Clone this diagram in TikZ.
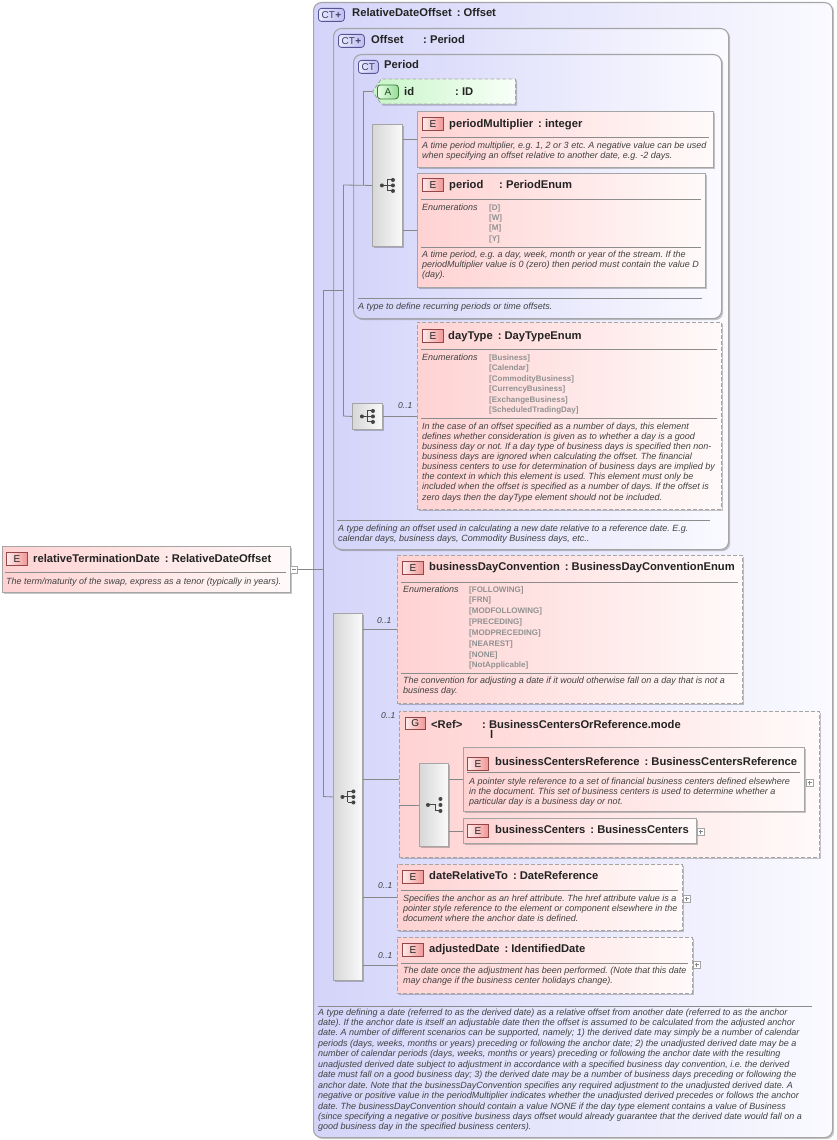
\documentclass[tikz,border=0pt]{standalone}
\usepackage{fontspec}
\setmainfont{Liberation Sans}
\usetikzlibrary{shapes.symbols,shadows}
\frenchspacing
\definecolor{ctL}{RGB}{212,212,250}
\definecolor{ctR}{RGB}{250,250,255}
\definecolor{elL}{RGB}{255,210,210}
\definecolor{elR}{RGB}{255,250,250}
\definecolor{atL}{RGB}{200,245,200}
\definecolor{atR}{RGB}{248,255,248}
\definecolor{sqL}{RGB}{215,215,215}
\definecolor{sqR}{RGB}{250,250,250}
\definecolor{bdr}{RGB}{165,165,165}
\definecolor{cnx}{RGB}{135,135,135}
\definecolor{ttlc}{RGB}{35,35,35}
\definecolor{dscc}{RGB}{65,65,65}
\definecolor{enmc}{RGB}{145,145,145}
\definecolor{sepc}{RGB}{140,140,140}
\definecolor{icE}{RGB}{150,70,70}
\definecolor{icEL}{RGB}{255,235,235}
\definecolor{icER}{RGB}{240,150,150}
\definecolor{icC}{RGB}{85,85,150}
\definecolor{icCL}{RGB}{235,235,255}
\definecolor{icCR}{RGB}{190,190,240}
\definecolor{icA}{RGB}{60,120,60}
\definecolor{icAL}{RGB}{230,255,230}
\definecolor{icAR}{RGB}{150,220,150}
\newcommand\dlines[5]{\foreach \tx [count=\k from 0] in {#5}{\node[dsc] (#1-\k) at (#2,#3+\k*#4) {\tx};}}
\newcommand\elines[5]{\foreach \tx [count=\k from 0] in {#5}{\node[enm] (#1-\k) at (#2,#3+\k*#4) {\tx};}}
\begin{document}
\begin{tikzpicture}[x=1pt,y=-1pt,
 shd/.style={drop shadow={shadow xshift=1.6pt,shadow yshift=-1.6pt,opacity=0.22,fill=black}},
 ctbox/.style={draw=bdr,line width=1.1pt,rounded corners=8pt,left color=ctL,right color=ctR,anchor=north west,inner sep=0pt,shd},
 elbox/.style={draw=bdr,line width=0.9pt,left color=elL,right color=elR,anchor=north west,inner sep=0pt,shd},
 optbox/.style={elbox,dash pattern=on 4pt off 2pt},
 attbox/.style={draw=bdr,line width=0.9pt,left color=atL,right color=atR,inner sep=0pt,shd,dash pattern=on 4pt off 2pt,signal,signal to=west,signal from=nowhere,signal pointer angle=110},
 seqbox/.style={draw=bdr,line width=0.9pt,left color=sqL,right color=sqR,anchor=north west,inner sep=0pt,shd},
 eicon/.style={draw=icE,line width=0.7pt,left color=icEL,right color=icER,anchor=north west,inner sep=0pt,minimum width=21pt,minimum height=13pt,font=\fontsize{10}{10}\selectfont,text=ttlc},
 cticon/.style={draw=icC,line width=0.8pt,rounded corners=3pt,left color=icCL,right color=icCR,anchor=north west,inner sep=0pt,minimum height=13pt,font=\fontsize{10}{10}\selectfont,text=icC!70!black},
 aicon/.style={draw=icA,line width=0.8pt,rounded corners=3pt,left color=icAL,right color=icAR,anchor=north west,inner sep=0pt,minimum width=21pt,minimum height=14pt,font=\fontsize{10}{10}\selectfont,text=icA!60!black},
 ttl/.style={anchor=base west,inner sep=0pt,font=\fontsize{11.2}{12}\selectfont\bfseries,text=ttlc},
 dsc/.style={anchor=base west,inner sep=0pt,font=\fontsize{9}{10}\selectfont\itshape,text=dscc},
 enm/.style={anchor=base west,inner sep=0pt,font=\fontsize{8}{9}\selectfont\bfseries,text=enmc},
 mult/.style={anchor=base west,inner sep=0pt,font=\fontsize{8.5}{9}\selectfont\itshape,text=dscc},
 sep/.style={draw=sepc,line width=0.7pt},
 cn/.style={draw=cnx,line width=0.8pt},
 minusbx/.style={draw=bdr,fill=white,line width=0.6pt,minimum size=7pt,inner sep=0pt,path picture={\draw[cnx,line width=0.6pt]([xshift=1.5pt]path picture bounding box.west)--([xshift=-1.5pt]path picture bounding box.east);}},
 plusbx/.style={draw=bdr,fill=white,line width=0.6pt,minimum size=7pt,inner sep=0pt,path picture={\draw[cnx,line width=0.6pt]([xshift=1.5pt]path picture bounding box.west)--([xshift=-1.5pt]path picture bounding box.east) ([yshift=-1.5pt]path picture bounding box.north)--([yshift=1.5pt]path picture bounding box.south);}},
 seqicon/.pic={
  \draw[ttlc!85,line width=1pt] (-5.5,0)--(0,0) (0,-5.5)--(0,5.5) (0,-5.5)--(5.5,-5.5) (0,0)--(5.5,0) (0,5.5)--(5.5,5.5);
  \fill[ttlc!85] (-5.5,0) circle[radius=2pt] (5.5,-5.5) circle[radius=2pt] (5.5,0) circle[radius=2pt] (5.5,5.5) circle[radius=2pt];},
 choiceicon/.pic={
  \draw[ttlc!85,line width=1pt] (-6,0)--(1.5,0)--(1.5,6)--(6.5,6);
  \fill[ttlc!85] (-6,0) circle[radius=2pt] (6.5,-6) circle[radius=2pt] (6.5,0) circle[radius=2pt] (6.5,6) circle[radius=2pt];}
]
\useasboundingbox (0,0) rectangle (837,1140);
\fill[white] (0,0) rectangle (837,1140);

% ---------- complex type containers
\node[ctbox,minimum width=519pt,minimum height=1135pt] (rdo) at (313,2) {};
\node[cticon,minimum width=26pt] (ic-rdo) at (318,8) {CT\kern0.5pt\textbf{+}};
\node[ttl] (t-rdo) at (352,17) {RelativeDateOffset\, : Offset};

\node[ctbox,minimum width=395pt,minimum height=521pt] (off) at (333,28) {};
\node[cticon,minimum width=26pt] (ic-off) at (338,34) {CT\kern0.5pt\textbf{+}};
\node[ttl] (t-off1) at (371,44) {Offset};
\node[ttl] (t-off2) at (423,44) {: Period};

\node[ctbox,minimum width=368pt,minimum height=264pt] (per) at (353,54) {};
\node[cticon,minimum width=20pt] (ic-per) at (358,60) {CT};
\node[ttl] (t-per) at (384,69) {Period};

% ---------- attribute id
\node[attbox,minimum width=143pt,minimum height=25pt,anchor=west] (idA) at (372,91.5) {};
\node[aicon] (ic-id) at (377,84.5) {A};
\node[ttl] (t-id1) at (404,95) {id};
\node[ttl] (t-id2) at (455,95) {: ID};

% ---------- sequence of Period
\node[seqbox,minimum width=30pt,minimum height=122pt] (seq1) at (372,124) {};
\pic at (seq1.center) {seqicon};

% periodMultiplier
\node[elbox,minimum width=296pt,minimum height=56pt] (pm) at (417,111) {};
\node[eicon] (ic-pm) at (422,117) {E};
\node[ttl] (t-pm) at (449,127) {periodMultiplier\, : integer};
\draw[sep] (421,137)--(709,137);
\dlines{dpm}{422}{148}{10}{{A time period multiplier, e.g. 1, 2 or 3 etc. A negative value can be used},{when specifying an offset relative to another date, e.g. -2 days.}}

% period
\node[elbox,minimum width=288pt,minimum height=114pt] (prd) at (417,173) {};
\node[eicon] (ic-prd) at (422,178) {E};
\node[ttl] (t-prd1) at (449,188) {period};
\node[ttl] (t-prd2) at (499,188) {: PeriodEnum};
\draw[sep] (421,199)--(701,199);
\node[dsc] (en-prd) at (422,210) {Enumerations};
\elines{eprd}{489}{210}{10.4}{{[D]},{[W]},{[M]},{[Y]}}
\draw[sep] (421,247)--(701,247);
\dlines{dprd}{422}{257}{10.3}{{A time period, e.g. a day, week, month or year of the stream. If the},{periodMultiplier value is 0 (zero) then period must contain the value D},{(day).}}

\draw[sep] (358,298)--(702,298);
\dlines{dper}{358}{309}{10}{{A type to define recurring periods or time offsets.}}

% ---------- dayType
\node[seqbox,minimum width=30pt,minimum height=26pt] (seq2) at (352,403) {};
\pic at (seq2.center) {seqicon};
\node[optbox,minimum width=304pt,minimum height=187pt] (dt) at (417,322) {};
\node[eicon] (ic-dt) at (422,329) {E};
\node[ttl] (t-dt) at (448,339) {dayType\, : DayTypeEnum};
\draw[sep] (421,349)--(717,349);
\node[dsc] (en-dt) at (422,360) {Enumerations};
\elines{edt}{489}{360}{10.5}{{[Business]},{[Calendar]},{[CommodityBusiness]},{[CurrencyBusiness]},{[ExchangeBusiness]},{[ScheduledTradingDay]}}
\draw[sep] (421,418)--(717,418);
\dlines{ddt}{422}{429}{10.15}{{In the case of an offset specified as a number of days, this element},{defines whether consideration is given as to whether a day is a good},{business day or not. If a day type of business days is specified then non-},{business days are ignored when calculating the offset. The financial},{business centers to use for determination of business days are implied by},{the context in which this element is used. This element must only be},{included when the offset is specified as a number of days. If the offset is},{zero days then the dayType element should not be included.}}
\node[mult] (m-dt) at (398,408) {0..1};

\draw[sep] (337,520)--(710,520);
\dlines{doff}{338}{531}{10.3}{{A type defining an offset used in calculating a new date relative to a reference date. E.g.},{calendar days, business days, Commodity Business days, etc..}}

% ---------- main sequence of RelativeDateOffset
\node[seqbox,minimum width=29pt,minimum height=367pt] (seqB) at (333,613) {};
\pic at (seqB.center) {seqicon};

% businessDayConvention
\node[optbox,minimum width=345pt,minimum height=148pt] (bdc) at (397,555) {};
\node[eicon] (ic-bdc) at (402,561) {E};
\node[ttl] (t-bdc) at (429,570) {businessDayConvention\, : BusinessDayConventionEnum};
\draw[sep] (401,582)--(738,582);
\node[dsc] (en-bdc) at (403,592) {Enumerations};
\elines{ebdc}{469}{592}{10.85}{{[FOLLOWING]},{[FRN]},{[MODFOLLOWING]},{[PRECEDING]},{[MODPRECEDING]},{[NEAREST]},{[NONE]},{[NotApplicable]}}
\draw[sep] (401,673)--(738,673);
\dlines{dbdc}{403}{683}{10.5}{{The convention for adjusting a date if it would otherwise fall on a day that is not a},{business day.}}
\node[mult] (m-bdc) at (377,623) {0..1};

% group
\node[optbox,minimum width=420pt,minimum height=146pt] (grp) at (399,711) {};
\node[eicon,minimum width=20pt,minimum height=12pt] (ic-grp) at (405,717) {G};
\node[ttl] (t-grp1) at (431,728) {<Ref>};
\node[ttl] (t-grp2) at (482,728) {: BusinessCentersOrReference.mode};
\node[ttl] (t-grp3) at (490,738) {l};
\node[mult] (m-grp) at (381,718) {0..1};
\node[seqbox,minimum width=29pt,minimum height=83pt] (seqI) at (419,763) {};
\pic at (seqI.center) {choiceicon};

\node[elbox,minimum width=341pt,minimum height=64pt] (bcr) at (463,747) {};
\node[eicon] (ic-bcr) at (467,757) {E};
\node[ttl] (t-bcr) at (495,765) {businessCentersReference\, : BusinessCentersReference};
\draw[sep] (467,772)--(800,772);
\dlines{dbcr}{469}{784}{10}{{A pointer style reference to a set of financial business centers defined elsewhere},{in the document. This set of business centers is used to determine whether a},{particular day is a business day or not.}}
\node[plusbx] (p-bcr) at (809.5,782.5) {};

\node[elbox,minimum width=233pt,minimum height=25pt] (bc) at (463,818) {};
\node[eicon] (ic-bc) at (467,824) {E};
\node[ttl] (t-bc) at (495,833) {businessCenters\, : BusinessCenters};
\node[plusbx] (p-bc) at (700.5,831.5) {};

% dateRelativeTo
\node[optbox,minimum width=285pt,minimum height=66pt] (drt) at (397,864) {};
\node[eicon] (ic-drt) at (402,870) {E};
\node[ttl] (t-drt) at (429,879) {dateRelativeTo\, : DateReference};
\draw[sep] (401,890)--(678,890);
\dlines{ddrt}{403}{901}{10.4}{{Specifies the anchor as an href attribute. The href attribute value is a},{pointer style reference to the element or component elsewhere in the},{document where the anchor date is defined.}}
\node[plusbx] (p-drt) at (686.5,898.5) {};
\node[mult] (m-drt) at (378,888) {0..1};

% adjustedDate
\node[optbox,minimum width=295pt,minimum height=56pt] (ad) at (397,937) {};
\node[eicon] (ic-ad) at (402,943) {E};
\node[ttl] (t-ad) at (429,952) {adjustedDate\, : IdentifiedDate};
\draw[sep] (401,963)--(688,963);
\dlines{dad}{403}{973}{10}{{The date once the adjustment has been performed. (Note that this date},{may change if the business center holidays change).}}
\node[plusbx] (p-ad) at (696.5,964.5) {};
\node[mult] (m-ad) at (378,958) {0..1};

% RelativeDateOffset description
\draw[sep] (318,1006)--(812,1006);
\dlines{drdo}{318}{1015}{10.45}{{A type defining a date (referred to as the derived date) as a relative offset from another date (referred to as the anchor},{date). If the anchor date is itself an adjustable date then the offset is assumed to be calculated from the adjusted anchor},{date. A number of different scenarios can be supported, namely; 1) the derived date may simply be a number of calendar},{periods (days, weeks, months or years) preceding or following the anchor date; 2) the unadjusted derived date may be a},{number of calendar periods (days, weeks, months or years) preceding or following the anchor date with the resulting},{unadjusted derived date subject to adjustment in accordance with a specified business day convention, i.e. the derived},{date must fall on a good business day; 3) the derived date may be a number of business days preceding or following the},{anchor date. Note that the businessDayConvention specifies any required adjustment to the unadjusted derived date. A},{negative or positive value in the periodMultiplier indicates whether the unadjusted derived precedes or follows the anchor},{date. The businessDayConvention should contain a value NONE if the day type element contains a value of Business},{(since specifying a negative or positive business days offset would already guarantee that the derived date would fall on a},{good business day in the specified business centers).}}

% ---------- root element
\node[elbox,minimum width=288pt,minimum height=46pt] (root) at (2,546) {};
\node[eicon] (ic-root) at (6,552) {E};
\node[ttl] (t-root) at (33,562) {relativeTerminationDate\, : RelativeDateOffset};
\draw[sep] (5,572)--(286,572);
\dlines{droot}{6}{584}{10}{{The term/maturity of the swap, express as a tenor (typically in years).}}
\node[minusbx] (rootm) at (294,569.5) {};

% ---------- connectors
\coordinate (a0) at (323,290);
\coordinate (a1) at (323,796.5);
\coordinate (b0) at (343,290);
\coordinate (b1) at (343,185);
\coordinate (b2) at (343,416);
\coordinate (c0) at (363,185);
\coordinate (g1) at (399,779);
\draw[cn] (rootm.east) -- (rootm.east -| a0);
\draw[cn] (a0) -- (a1);
\draw[cn] (a0) -- (b0);
\draw[cn] (b1) -- (b2);
\draw[cn] (b1) -- (seq1.west);
\draw[cn] (c0) -- (c0 |- idA.west) -- (idA.west);
\draw[cn] (pm.west -| seq1.east) -- (pm.west);
\draw[cn] (prd.west -| seq1.east) -- (prd.west);
\draw[cn] (b2) -- (seq2.west);
\draw[cn] (seq2.east) -- (seq2.east -| dt.west);
\draw[cn] (a1) -- (seqB.west);
\draw[cn] (bdc.west -| seqB.east) -- (bdc.west);
\draw[cn] (g1 -| seqB.east) -- (g1);
\draw[cn] (seqI.west -| grp.west) -- (seqI.west);
\draw[cn] (bcr.west -| seqI.east) -- (bcr.west);
\draw[cn] (bc.west -| seqI.east) -- (bc.west);
\draw[cn] (drt.west -| seqB.east) -- (drt.west);
\draw[cn] (ad.west -| seqB.east) -- (ad.west);
\end{tikzpicture}
\end{document}
